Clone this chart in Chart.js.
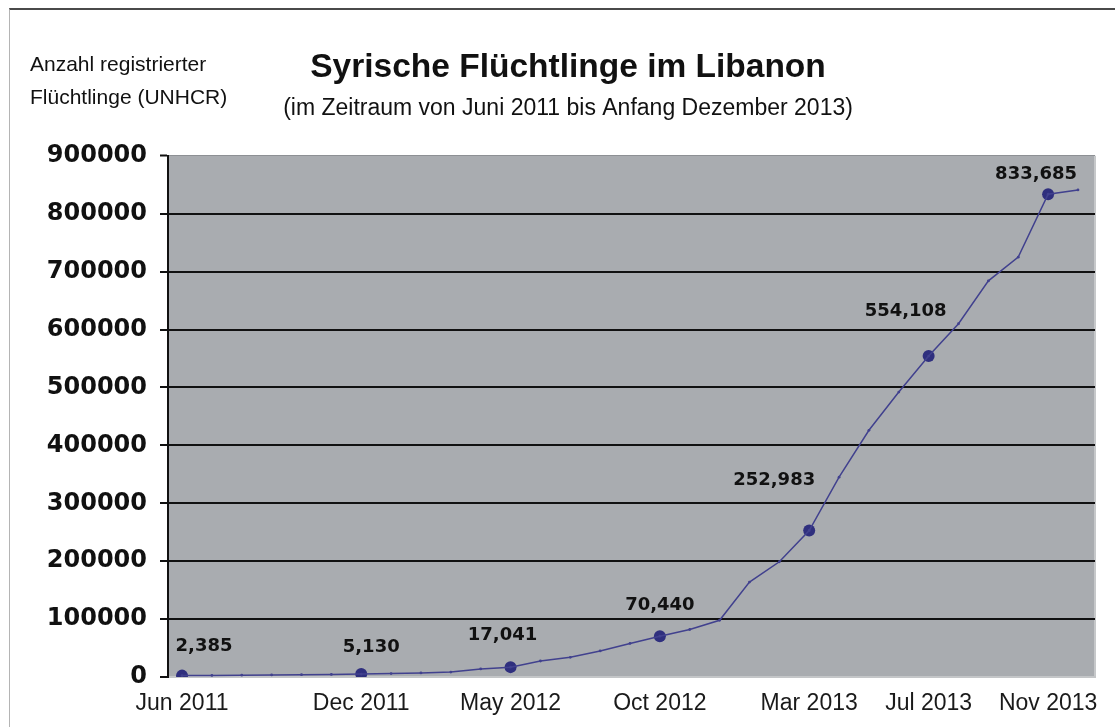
<!DOCTYPE html>
<html><head><meta charset="utf-8">
<script src="https://cdn.jsdelivr.net/npm/chart.js@4.4.0/dist/chart.umd.min.js"></script>
<style>
html,body{margin:0;padding:0;background:#fff;}
#wrap{position:relative;width:1115px;height:727px;overflow:hidden;}
#frame{position:absolute;left:9px;top:8px;width:1200px;height:800px;border-top:2px solid #4a4a4a;border-left:1px solid #b4b4b4;}
canvas{position:absolute;left:0;top:0;}
</style></head><body>
<div id="wrap"><div id="frame"></div><canvas id="c" width="1115" height="727"></canvas></div>
<script>
// ---- data ----
const months = ['Jun 2011','Jul 2011','Aug 2011','Sep 2011','Oct 2011','Nov 2011','Dec 2011',
  'Jan 2012','Feb 2012','Mar 2012','Apr 2012','May 2012','Jun 2012','Jul 2012','Aug 2012','Sep 2012',
  'Oct 2012','Nov 2012','Dec 2012','Jan 2013','Feb 2013','Mar 2013','Apr 2013','May 2013','Jun 2013',
  'Jul 2013','Aug 2013','Sep 2013','Oct 2013','Nov 2013','Dec 2013'];
const monthlyRefugees = [2385,2800,3200,3600,4000,4500,5130,
  6000,7000,8500,14000,17041,27600,34000,45000,58000,
  70440,82000,98000,164000,199000,252983,345000,426000,492000,
  554108,610000,684000,725000,833685,841000];
const markedMonths = ['Jun 2011','Dec 2011','May 2012','Oct 2012','Mar 2013','Jul 2013','Nov 2013'];
const markedValues = [2385,5130,17041,70440,252983,554108,833685];
const markedLabels = ['2,385','5,130','17,041','70,440','252,983','554,108','833,685'];
const xTickLabels = ['Jun 2011','Dec 2011','May 2012','Oct 2012','Mar 2013','Jul 2013','Nov 2013'];
const yTickValues = [0,100000,200000,300000,400000,500000,600000,700000,800000,900000];
const titleText = 'Syrische Flüchtlinge im Libanon';
const subtitleText = '(im Zeitraum von Juni 2011 bis Anfang Dezember 2013)';
const yCaption = ['Anzahl registrierter','Flüchtlinge (UNHCR)'];

// ---- plugins ----
const sans = "'Liberation Sans', Arial, sans-serif";
const dejavu = "'DejaVu Sans', sans-serif";

const plotBg = {
  id: 'plotBg',
  beforeDraw(chart) {
    const {ctx, chartArea: a} = chart;
    ctx.save();
    ctx.fillStyle = '#a9acb0';
    ctx.fillRect(a.left, a.top, a.right - a.left, a.bottom - a.top);
    ctx.strokeStyle = '#c6c8ca';
    ctx.lineWidth = 2;
    ctx.beginPath();
    ctx.moveTo(a.right, a.top); ctx.lineTo(a.right, a.bottom);
    ctx.stroke();
    ctx.restore();
  }
};

const pointLabels = {
  id: 'pointLabels',
  afterDatasetsDraw(chart, args, opts) {
    const {ctx} = chart;
    const meta = chart.getDatasetMeta(1);
    ctx.save();
    ctx.font = 'bold 18px ' + dejavu;
    ctx.fillStyle = '#111';
    ctx.textAlign = 'center';
    ctx.textBaseline = 'middle';
    meta.data.forEach((pt, i) => {
      const off = opts.offsets[i] || [0, -30];
      ctx.fillText(markedLabels[i], pt.x + off[0], pt.y + off[1]);
    });
    ctx.restore();
  }
};

const caption = {
  id: 'caption',
  afterDraw(chart) {
    const {ctx} = chart;
    ctx.save();
    ctx.font = '21px ' + sans;
    ctx.fillStyle = '#111';
    ctx.textAlign = 'left';
    ctx.textBaseline = 'alphabetic';
    ctx.fillText(yCaption[0], 30, 71);
    ctx.fillText(yCaption[1], 30, 104);
    ctx.restore();
  }
};

new Chart(document.getElementById('c'), {
  type: 'scatter',
  data: {
    datasets: [{
      data: monthlyRefugees.map((v, i) => ({x: i, y: v})),
      showLine: true,
      borderColor: '#41418e',
      borderWidth: 1.5,
      pointRadius: 1.4,
      pointBackgroundColor: '#41418e',
      pointBorderWidth: 0,
      tension: 0
    }, {
      data: markedMonths.map((m, i) => ({x: months.indexOf(m), y: markedValues[i]})),
      showLine: false,
      pointRadius: 6,
      pointBackgroundColor: '#2f2f7e',
      pointBorderColor: '#2f2f7e',
      pointBorderWidth: 0
    }]
  },
  options: {
    responsive: false,
    animation: false,
    events: [],
    layout: {padding: {left: 41, right: 20, top: 0, bottom: 9}},
    plugins: {
      legend: {display: false},
      tooltip: {enabled: false},
      title: {display: true, text: titleText, color: '#111',
        font: {family: sans, size: 33.5, weight: 'bold'}, padding: {top: 48, bottom: 7}},
      subtitle: {display: true, text: subtitleText, color: '#111',
        font: {family: sans, size: 23}, padding: {top: 0, bottom: 33}},
      pointLabels: {offsets: [[22,-29],[10,-27],[-8,-32],[0,-31],[-35,-50],[-23,-45],[-12,-20]]}
    },
    scales: {
      x: {
        type: 'linear',
        min: -0.47, max: 30.57,
        grid: {display: false, drawTicks: false},
        border: {display: true, color: '#c4c6c8', width: 2},
        afterBuildTicks: (s) => { s.ticks = xTickLabels.map(l => ({value: months.indexOf(l)})); },
        afterFit: (s) => { s.height = 41; },
        ticks: {
          autoSkip: false, maxRotation: 0, padding: 13, color: '#1a1a1a',
          font: {family: sans, size: 23},
          callback: (v) => months[v]
        }
      },
      y: {
        type: 'linear',
        min: 0, max: 900000,
        afterBuildTicks: (s) => { s.ticks = yTickValues.map(v => ({value: v})); },
        afterFit: (s) => { s.width = 127; },
        grid: {
          color: (c) => c.tick.value === 0 ? 'rgba(0,0,0,0)' : (c.tick.value === 900000 ? '#8d9094' : '#111'),
          lineWidth: (c) => c.tick.value === 900000 ? 1 : 2,
          tickColor: '#111', tickLength: 8, tickWidth: 2, drawTicks: true
        },
        border: {display: true, color: '#111', width: 2},
        ticks: {
          padding: 13, color: '#111',
          font: {family: dejavu, size: 24, weight: 'bold'},
          callback: (v) => String(v)
        }
      }
    }
  },
  plugins: [plotBg, pointLabels, caption]
});
</script>
</body></html>
